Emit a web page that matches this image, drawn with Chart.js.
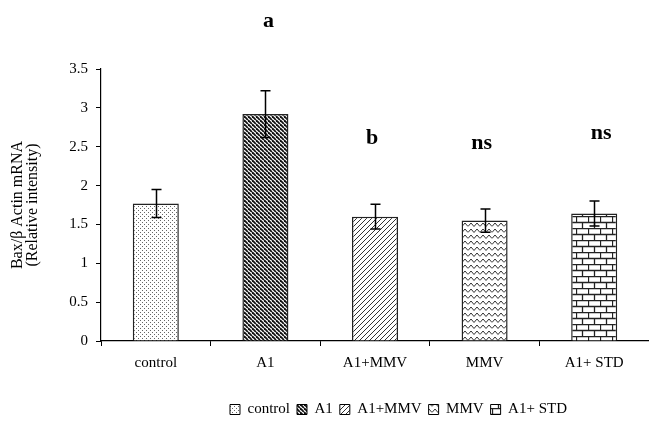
<!DOCTYPE html>
<html><head><meta charset="utf-8">
<script src="https://cdn.jsdelivr.net/npm/chart.js@4"></script>
<style>html,body{margin:0;padding:0;background:#fff}#wrap{width:649px;height:423px}</style>
</head><body><div id="wrap"><canvas id="c" width="649" height="423"></canvas></div>
<script>
const categories = ['control', 'A1', 'A1+MMV', 'MMV', 'A1+ STD'];
const legendLabels = ['control', 'A1', 'A1+MMV', 'MMV', 'A1+ STD'];
const values = [1.77, 2.92, 1.60, 1.55, 1.64];
const errors = [0.18, 0.30, 0.16, 0.15, 0.16];
const sigLabels = ['', 'a', 'b', 'ns', 'ns'];
const sigY = [null, 4.12, 2.61, 2.55, 2.67];
const yTicks = [0, 0.5, 1, 1.5, 2, 2.5, 3, 3.5];

function tile(w, h, draw) {
  const c = document.createElement('canvas'); c.width = w; c.height = h;
  const g = c.getContext('2d'); g.fillStyle = '#fff'; g.fillRect(0, 0, w, h);
  draw(g); return g.createPattern(c, 'repeat');
}
const patDots = tile(4, 4, g => { g.fillStyle = '#666'; g.fillRect(0, 0, 1, 1); g.fillRect(2, 2, 1, 1); });
const patBack = tile(4, 4, g => { g.strokeStyle = '#111'; g.lineWidth = 1.8;
  for (let k = -4; k <= 4; k += 4) { g.beginPath(); g.moveTo(k, 0); g.lineTo(k + 4, 4); g.stroke(); } });
const patFwd = tile(5, 5, g => { g.strokeStyle = '#333'; g.lineWidth = 1;
  for (let k = -5; k <= 5; k += 5) { g.beginPath(); g.moveTo(k, 5); g.lineTo(k + 5, 0); g.stroke(); } });
const patWave = tile(12, 6, g => { g.strokeStyle = '#333'; g.lineWidth = 1;
  g.beginPath(); g.moveTo(0, 4.5); g.lineTo(3, 1); g.lineTo(6, 4.5); g.lineTo(9, 1); g.lineTo(12, 4.5); g.stroke(); });
const patBrick = tile(12, 12, g => { g.strokeStyle = '#222'; g.lineWidth = 1.3;
  g.beginPath(); g.moveTo(0, 0.5); g.lineTo(12, 0.5); g.moveTo(0, 6.5); g.lineTo(12, 6.5);
  g.moveTo(0.5, 0); g.lineTo(0.5, 6.5); g.moveTo(6.5, 6.5); g.lineTo(6.5, 12); g.stroke(); });
const patterns = [patDots, patBack, patFwd, patWave, patBrick];

const serif = 'Liberation Serif';

const extras = {
  id: 'extras',
  afterLayout(chart) {
    chart.legend.left += 74; chart.legend.right += 74;
    chart.legend.top += 4; chart.legend.bottom += 4;
  },
  afterDatasetsDraw(chart) {
    const ctx = chart.ctx, meta = chart.getDatasetMeta(0), ys = chart.scales.y;
    ctx.save();
    ctx.strokeStyle = '#000'; ctx.lineWidth = 1.5;
    meta.data.forEach((bar, i) => {
      const x = Math.round(bar.x) + 0.5;
      const t = ys.getPixelForValue(values[i] + errors[i]);
      const b = ys.getPixelForValue(values[i] - errors[i]);
      ctx.beginPath();
      ctx.moveTo(x, t); ctx.lineTo(x, b);
      ctx.moveTo(x - 5, t); ctx.lineTo(x + 5, t);
      ctx.moveTo(x - 5, b); ctx.lineTo(x + 5, b);
      ctx.stroke();
    });
    ctx.fillStyle = '#000';
    ctx.font = 'bold 22px "' + serif + '"';
    ctx.textAlign = 'center'; ctx.textBaseline = 'middle';
    meta.data.forEach((bar, i) => {
      if (!sigLabels[i]) return;
      ctx.fillText(sigLabels[i], bar.x + (i === 4 ? 7 : (i === 1 ? 3 : -3)), ys.getPixelForValue(sigY[i]));
    });
    ctx.restore();
  }
};

new Chart(document.getElementById('c'), {
  type: 'bar',
  data: {
    labels: categories,
    datasets: [{
      label: 'Bax',
      data: values,
      backgroundColor: patterns,
      borderColor: '#222',
      borderWidth: 1.5,
      categoryPercentage: 1,
      barPercentage: 0.42
    }]
  },
  options: {
    responsive: false,
    animation: false,
    devicePixelRatio: 1,
    layout: { padding: { top: 69, right: 0, left: 0, bottom: 0 } },
    plugins: {
      tooltip: { enabled: false },
      legend: {
        position: 'bottom',
        labels: {
          font: { family: serif, size: 15 },
          color: '#000',
          boxWidth: 10, boxHeight: 10, padding: 7,
          generateLabels: () => legendLabels.map((t, i) => ({
            text: t, fillStyle: patterns[i], strokeStyle: '#000', lineWidth: 1, hidden: false, index: i
          }))
        }
      }
    },
    scales: {
      x: {
        offset: true,
        grid: { offset: true, drawOnChartArea: false, drawTicks: true, tickLength: 5, color: '#000', lineWidth: 1 },
        border: { color: '#000', width: 1.2 },
        ticks: { font: { family: serif, size: 15 }, color: '#000', padding: 8 },
        afterFit(s) { s.height = 50; }
      },
      y: {
        min: 0, max: 3.5,
        afterBuildTicks(s) { s.ticks = yTicks.map(v => ({ value: v })); },
        grid: { drawOnChartArea: false, drawTicks: true, tickLength: 5, color: '#000' },
        border: { color: '#000', width: 1.2 },
        ticks: { font: { family: serif, size: 15 }, color: '#000', padding: 8, callback: v => String(v) },
        title: {
          display: true,
          text: ['Bax/\u03b2 Actin mRNA', '(Relative intensity)'],
          font: { family: serif, size: 16, lineHeight: 0.9 }, color: '#000', padding: { top: 11, bottom: 0 }
        },
        afterFit(s) { s.width = 101; }
      }
    }
  },
  plugins: [extras]
});
</script>
</body></html>
